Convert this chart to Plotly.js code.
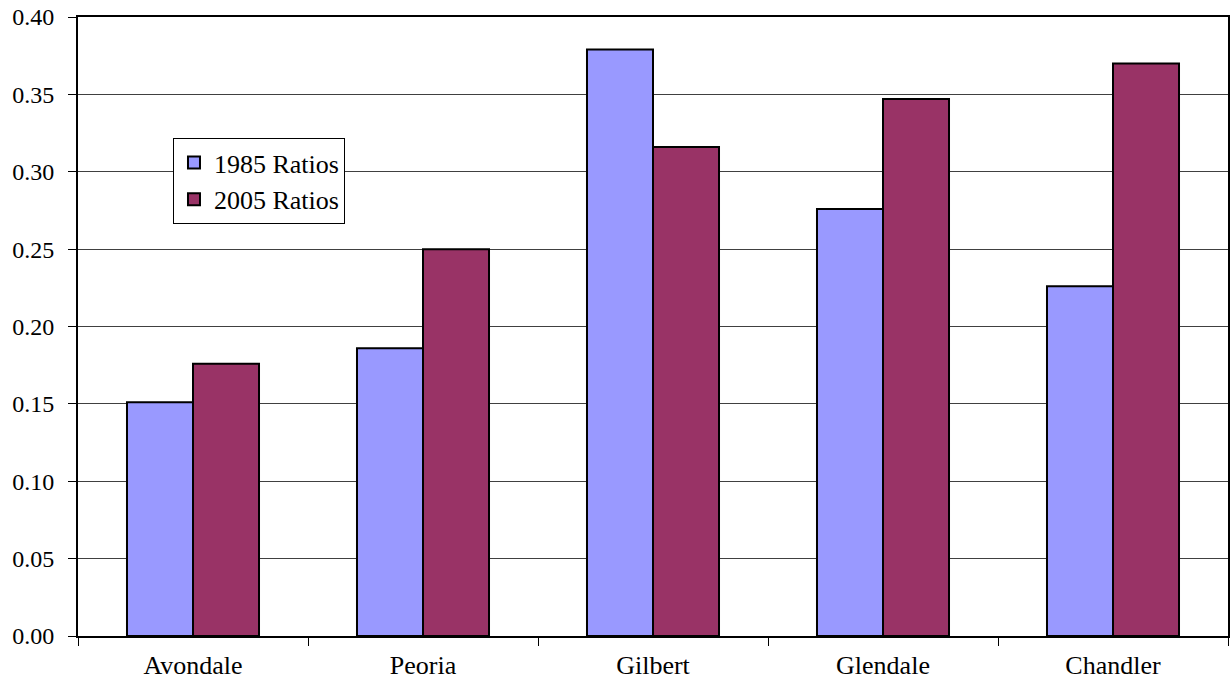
<!DOCTYPE html>
<html><head><meta charset="utf-8">
<script src="https://cdn.plot.ly/plotly-3.0.1.min.js"></script>
<style>body{margin:0;background:#fff}#c{width:1231px;height:687px}</style>
</head><body><div id="c"></div>
<script>
const categories = ["Avondale", "Peoria", "Gilbert", "Glendale", "Chandler"];
const ratios1985 = [0.151, 0.186, 0.379, 0.276, 0.226];
const ratios2005 = [0.176, 0.250, 0.316, 0.347, 0.370];
const seriesNames = ["1985 Ratios", "2005 Ratios"];
const yTicks = [0, 0.05, 0.10, 0.15, 0.20, 0.25, 0.30, 0.35, 0.40];
const yTickText = ["0.00","0.05","0.10","0.15","0.20","0.25","0.30","0.35","0.40"];

const fam = "Times New Roman, Liberation Serif, serif";
const font = {family: fam, size: 24, color: "#000"};
const bigFont = {family: fam, size: 26, color: "#000"};
const traces = [
  {type: "bar", name: seriesNames[0], x: categories, y: ratios1985,
   marker: {color: "#9999FF", line: {color: "#000", width: 2}}},
  {type: "bar", name: seriesNames[1], x: categories, y: ratios2005,
   marker: {color: "#993366", line: {color: "#000", width: 2}}}
];
const layout = {
  width: 1231, height: 687,
  margin: {l: 78, r: 3, t: 17, b: 51},
  paper_bgcolor: "#fff", plot_bgcolor: "#fff",
  font: font,
  barmode: "group", bargap: 0.426, bargroupgap: 0,
  showlegend: true,
  legend: {x: 0.0826, y: 0.8045, xanchor: "left", yanchor: "top",
           bgcolor: "#fff", bordercolor: "#000", borderwidth: 1,
           font: bigFont, tracegroupgap: 0, itemwidth: 30},
  xaxis: {showline: true, linecolor: "#000", linewidth: 2, mirror: true,
          ticks: "outside", tickson: "boundaries", ticklen: 8, tickcolor: "#000", tickwidth: 1,
          ticklabelstandoff: 5,
          showgrid: false, tickfont: bigFont, automargin: false},
  yaxis: {range: [0, 0.4], tickvals: yTicks, ticktext: yTickText,
          showline: true, linecolor: "#000", linewidth: 2, mirror: true,
          ticks: "outside", ticklen: 8, tickcolor: "#000", tickwidth: 1,
          ticklabelstandoff: 9,
          showgrid: true, gridcolor: "#404040", gridwidth: 1, zeroline: false,
          tickfont: font, automargin: false}
};
Plotly.newPlot("c", traces, layout, {displayModeBar: false, staticPlot: true});
</script></body></html>
